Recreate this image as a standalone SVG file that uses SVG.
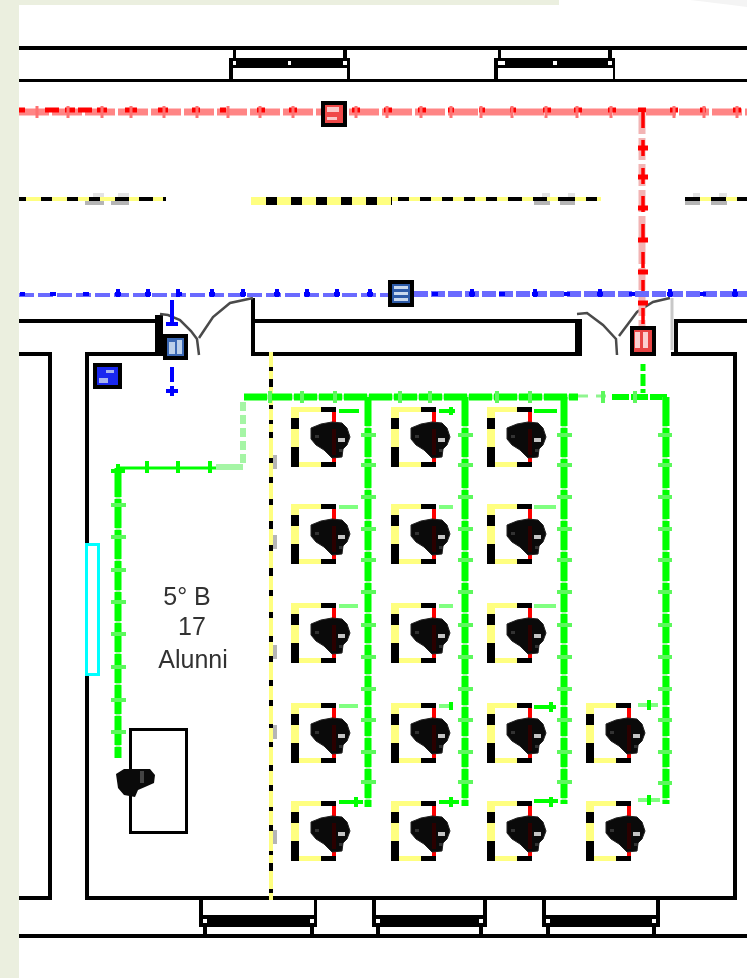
<svg xmlns="http://www.w3.org/2000/svg" width="747" height="978" viewBox="0 0 747 978">
<style>
.k{fill:#000}
.wh{fill:#fff}
.dr{fill:none;stroke:#4a4a4a;stroke-width:2.5}
.rp{fill:none;stroke:#ff8585;stroke-width:7;stroke-dasharray:30 3}
.rr{fill:none;stroke:#f00;stroke-width:5}
.rt{fill:none;stroke:#ff7070;stroke-width:3}
.bb{fill:none;stroke:#00f;stroke-width:4}
.g{fill:none;stroke:#0f0;stroke-width:7;stroke-dasharray:29 2}
.pale{fill:none;stroke:#a8f8a8;stroke-width:5}
.gt{fill:none;stroke:#0f0;stroke-width:4}
.gs{fill:none;stroke:#80ff80;stroke-width:4}
.gtk{fill:none;stroke:#5cf85c;stroke-width:4}
.gl{fill:none;stroke:#a5f5a5;stroke-width:6}
.smudge{fill:#b5b5b5}
.lbl{font-family:"Liberation Sans",Arial,sans-serif;font-size:25px;fill:#333;text-anchor:middle}
</style>
<defs>
<filter id="soft" x="-10%" y="-10%" width="120%" height="120%"><feGaussianBlur stdDeviation="0.6"/></filter>
<g id="desk">
<rect x="0" y="0" width="8" height="60" fill="#000"/>
<rect x="0" y="0" width="8" height="11" fill="#ffff80"/>
<rect x="0" y="22" width="8" height="18" fill="#ffff80"/>
<rect x="8" y="0" width="22" height="5" fill="#ffff80"/>
<rect x="30" y="0" width="15" height="5" fill="#000"/>
<rect x="8" y="55" width="22" height="5" fill="#ffff80"/>
<rect x="30" y="55" width="15" height="5" fill="#000"/>
<rect x="41" y="5" width="4" height="50" fill="#f00"/>
<path d="M20 21L30 17L41 15L51 16L56 21L59 30L56 38L52 42L51 50L41 51L33 43L25 38L20 32Z" fill="#0a0a0a" stroke="#222" stroke-width="1" stroke-linejoin="round"/>
<rect x="41" y="22" width="4" height="26" fill="#2a0000"/>
<rect x="47" y="31" width="7" height="4" fill="#c4c4c4"/>
<path d="M48 42h3v3h-3zM24 28h4v3h-4z" fill="#333"/>
</g>
</defs>
<rect width="747" height="978" fill="#fff"/>
<rect width="19" height="978" fill="#ebefdf"/>
<rect width="559" height="5" fill="#ebefdf"/>
<path d="M690 0H747V7Q715 3 690 0Z" fill="#f4f4f4"/>

<g id="walls">
<rect class="k" x="19" y="46" width="728" height="4"/>
<rect class="k" x="19" y="79" width="728" height="3"/>
<rect class="k" x="19" y="319" width="141" height="4"/>
<rect class="k" x="155" y="315" width="8" height="41"/>
<rect class="k" x="85" y="352" width="78" height="4"/>
<rect class="k" x="251" y="298" width="4" height="58"/>
<rect class="k" x="251" y="319" width="327" height="4"/>
<rect class="k" x="251" y="352" width="331" height="4"/>
<rect class="k" x="575" y="319" width="7" height="37"/>
<rect class="k" x="674" y="319" width="73" height="4"/>
<rect class="k" x="674" y="319" width="4" height="37"/>
<rect class="k" x="671" y="352" width="66" height="4"/>
<rect class="k" x="733" y="352" width="4" height="548"/>
<rect class="k" x="85" y="352" width="4" height="548"/>
<rect class="k" x="85" y="896" width="652" height="4"/>
<rect class="k" x="19" y="352" width="33" height="4"/>
<rect class="k" x="48" y="352" width="4" height="548"/>
<rect class="k" x="19" y="896" width="33" height="4"/>
<rect class="k" x="19" y="934" width="728" height="4"/>
</g>

<g id="windows">
<g id="window-top-1"><rect class="k" x="229" y="58" width="121" height="10"/><rect class="k" x="229" y="68" width="4" height="12"/><rect class="k" x="347" y="68" width="3" height="12"/><rect class="k" x="233" y="50" width="3" height="8"/><rect class="k" x="343" y="50" width="4" height="8"/><rect class="wh" x="233" y="61" width="3" height="4"/><rect class="wh" x="288" y="61" width="3" height="4"/><rect class="wh" x="343" y="61" width="4" height="4"/></g>
<g id="window-top-2"><rect class="k" x="494" y="58" width="121" height="10"/><rect class="k" x="494" y="68" width="4" height="12"/><rect class="k" x="613" y="68" width="2" height="12"/><rect class="k" x="498" y="50" width="3" height="8"/><rect class="k" x="608" y="50" width="4" height="8"/><rect class="wh" x="498" y="61" width="7" height="4"/><rect class="wh" x="553" y="61" width="4" height="4"/><rect class="wh" x="608" y="61" width="4" height="4"/></g>
<g id="window-bottom-1"><rect class="k" x="199" y="900" width="4" height="27"/><rect class="k" x="314" y="900" width="3" height="27"/><rect class="k" x="199" y="915" width="118" height="12"/><rect class="k" x="203" y="927" width="4" height="7"/><rect class="k" x="310" y="927" width="4" height="7"/><rect class="wh" x="203" y="919" width="4" height="4"/><rect class="wh" x="310" y="919" width="4" height="4"/></g>
<g id="window-bottom-2"><rect class="k" x="372" y="900" width="4" height="27"/><rect class="k" x="483" y="900" width="4" height="27"/><rect class="k" x="372" y="915" width="115" height="12"/><rect class="k" x="376" y="927" width="4" height="7"/><rect class="k" x="479" y="927" width="4" height="7"/><rect class="wh" x="376" y="919" width="4" height="4"/><rect class="wh" x="479" y="919" width="4" height="4"/></g>
<g id="window-bottom-3"><rect class="k" x="542" y="900" width="4" height="27"/><rect class="k" x="656" y="900" width="4" height="27"/><rect class="k" x="542" y="915" width="118" height="12"/><rect class="k" x="546" y="927" width="4" height="7"/><rect class="k" x="652" y="927" width="4" height="7"/><rect class="wh" x="546" y="919" width="4" height="4"/><rect class="wh" x="652" y="919" width="4" height="4"/></g>
</g>

<g id="doors">
<path class="dr" d="M160 314L168 315L180 320L191 331L197 339L199 355"/>
<path class="dr" d="M199 338L205 329L213 317L230 303L253 298"/>
<path class="dr" d="M577 314L587 313L603 325L616 339L617 355"/>
<path class="dr" d="M619 336L637 312L653 302L670 298"/>
<path d="M672 298V350" fill="none" stroke="#c8c8c8" stroke-width="3"/>
</g>

<g id="connectors">
<path class="rp" d="M19 112H747"/>
<path class="rr" d="M19 110h6M45 110h14M65 110h10M78 110h14M97 110h10M125 110h12M158 110h10M192 110h8M220 110h6M257 110h8M289 110h8M352 110h8M384 110h8M418 110h8M448 110h6M479 110h6M510 110h6M543 110h8M574 110h8M608 110h8M638 110h8M670 110h8M700 110h6M733 110h8"/>
<path class="rt" d="M37 106v12M68 106v12M102 106v12M131 106v12M164 106v12M197 106v12M228 106v12M260 106v12M293 106v12M356 106v12M387 106v12M421 106v12M451 106v12M481 106v12M512 106v12M546 106v12M577 106v12M611 106v12M674 106v12M704 106v12M737 106v12"/>
<path d="M642 112V330" fill="none" stroke="#f2b4b4" stroke-width="7" stroke-dasharray="22 4"/>
<path d="M643 112V330" fill="none" stroke="#f00" stroke-width="3.500" stroke-dasharray="16 12"/>
<path class="rr" stroke-width="4" d="M638 148h10M638 177h10M638 208h10M638 240h10M638 272h10M638 303h10"/>

<path d="M19 295H388" fill="none" stroke="#6a6aff" stroke-width="4" stroke-dasharray="15 4"/>
<path d="M414 294H747" fill="none" stroke="#6a6aff" stroke-width="6" stroke-dasharray="14 3"/>
<path class="bb" d="M20 294h5M50 294h6M83 294h6M115 294h6M145 294h6M176 294h6M209 294h6M240 294h6M274 294h6M304 294h6M334 294h6M367 294h6M432 294h6M469 294h6M499 294h6M532 294h6M564 294h6M597 294h6M629 294h6M667 294h6M700 294h6M732 294h6"/>
<path class="bb" stroke-width="3" d="M118 289v8M148 289v8M178 289v8M212 289v8M243 289v8M277 289v8M307 289v8M337 289v8M370 289v8M472 289v8M535 289v8M600 289v8M670 289v8M735 289v8"/>
<path class="bb" d="M172 300V326M172 367V382M172 386V396"/>
<path d="M166 324h12M166 391h12" fill="none" stroke="#00f" stroke-width="4"/>

<g id="yellow-lines">
<path d="M19 199H166" fill="none" stroke="#ffff80" stroke-width="4"/>
<path d="M19 199H166" fill="none" stroke="#000" stroke-width="4" stroke-dasharray="7 15 11 15 11 11 11 15 14 10 14 10 11 14"/>
<path d="M251 201H392" fill="none" stroke="#ffff80" stroke-width="8"/>
<path d="M266 201H392" fill="none" stroke="#000" stroke-width="8" stroke-dasharray="11 14"/>
<path d="M392 199H601" fill="none" stroke="#ffff80" stroke-width="4"/>
<path d="M392 199H601" fill="none" stroke="#000" stroke-width="4" stroke-dasharray="0 6 11 11 11 11 11 11 11 11 11 11 14 11 14 11 11"/>
<path d="M685 199H747" fill="none" stroke="#ffff80" stroke-width="4"/>
<path d="M685 199H747" fill="none" stroke="#000" stroke-width="4" stroke-dasharray="15 11 15 11"/>
<path class="smudge" d="M85 201h19v4h-19zM111 201h18v4h-18zM534 201h16v4h-16zM560 201h15v4h-15zM685 201h15v4h-15zM711 201h16v4h-16z"/>
<path fill="#e3e3e3" d="M93 193h11v4h-11zM118 193h11v4h-11zM542 193h8v4h-8zM568 193h7v4h-7zM693 193h7v4h-7zM719 193h8v4h-8z"/>
<path d="M271 352V900" fill="none" stroke="#ffff80" stroke-width="4"/>
<path d="M271 367V900" fill="none" stroke="#000" stroke-width="4" stroke-dasharray="4 8 8 18 4 11 4 8 6 20 5 14 6 16 6 16 8 16 6 17 8 14 6 16 6 18 6 14 6 18 6 14 6 18 4 14 5 18 6 14 6 16 4 14 6 20"/>
<path class="smudge" d="M273 455h4v14h-4zM273 535h4v14h-4zM273 645h4v14h-4zM273 725h4v14h-4zM273 830h4v14h-4z"/>
</g>

<g id="green-lines">
<path class="pale" d="M118 468V758M368 397V807M465 397V806M564 397V804M244 397H578"/>
<path d="M244 397H578" fill="none" stroke="#0f0" stroke-width="7" stroke-dasharray="23 2"/>
<path d="M578 396H612" fill="none" stroke="#8ff58f" stroke-width="3" stroke-dasharray="10 8"/>
<path d="M612 397H667" fill="none" stroke="#0f0" stroke-width="6" stroke-dasharray="17 2"/>
<path d="M643 364V393" fill="none" stroke="#0f0" stroke-width="5" stroke-dasharray="7 3 12 3"/>
<path class="gl" stroke-dasharray="9 4" d="M243 402V466"/>
<path d="M118 468H216" fill="none" stroke="#0f0" stroke-width="3"/>
<path class="gl" stroke-width="5" d="M216 467H243"/>
<path class="g" d="M118 468V758"/>
<path class="g" d="M368 397V807"/>
<path class="g" d="M465 397V806"/>
<path class="g" d="M564 397V804"/>
<path class="pale" stroke-width="6" d="M665 397V804"/>
<path class="g" d="M666 397V804" stroke-width="4"/>
<path class="gt" d="M147 461v12M178 461v12M210 461v12M118 464v10M111 471h14"/>
<path class="gtk" d="M270 391v12M302 391v12M335 391v12M400 391v12M430 391v12M497 391v12M530 391v12M603 391v12M635 391v12"/>
<path class="gtk" d="M111 505h15M111 537h15M111 570h15M111 602h15M111 634h15M111 667h15M111 700h15M111 732h15"/>
<path class="gtk" d="M361 435h15M361 465h15M361 497h15M361 529h15M361 560h15M361 592h15M361 625h15M361 657h15M361 689h15M361 720h15M361 752h15M361 782h15"/>
<path class="gtk" d="M458 435h15M458 465h15M458 497h15M458 529h15M458 560h15M458 592h15M458 625h15M458 657h15M458 689h15M458 720h15M458 752h15M458 782h15"/>
<path class="gtk" d="M557 435h15M557 465h15M557 497h15M557 529h15M557 560h15M557 592h15M557 625h15M557 657h15M557 689h15M557 720h15M557 752h15M557 782h15"/>
<path class="gtk" d="M658 435h14M658 465h14M658 497h14M658 529h14M658 560h14M658 592h14M658 625h14M658 657h14M658 689h14M658 720h14M658 752h14M658 783h14"/>
<path class="gs" d="M339 507h19M339 606h19M339 706h19M439 507h14M439 606h14M439 706h14M534 507h22M534 606h22M638 705h20M638 800h22"/>
<path class="gt" d="M339 411h20M339 802h24M439 411h16M439 802h20M534 411h23M534 707h22M534 801h24"/>
<path class="gt" d="M356 797v10M451 797v10M451 702v8M451 407v8M551 797v10M551 702v10M649 700v10M649 795v10"/>
</g>
</g>

<g id="teacher-desk"><rect x="130.500" y="729.500" width="56" height="103" fill="none" stroke="#000" stroke-width="3"/></g>
<g id="teacher"><path d="M116 774L124 769L150 769L155 775L154 783L145 787L138 790L135 797L124 795L118 788Z" fill="#0a0a0a"/><rect x="140" y="771" width="4" height="12" fill="#444"/></g>
<g id="board"><rect x="86.500" y="544.500" width="12" height="130" fill="#fff" stroke="#0ff" stroke-width="3"/></g>

<g id="desks">
<use id="desk-1-1" href="#desk" x="291" y="407"/><use id="desk-1-2" href="#desk" x="391" y="407"/><use id="desk-1-3" href="#desk" x="487" y="407"/>
<use id="desk-2-1" href="#desk" x="291" y="504"/><use id="desk-2-2" href="#desk" x="391" y="504"/><use id="desk-2-3" href="#desk" x="487" y="504"/>
<use id="desk-3-1" href="#desk" x="291" y="603"/><use id="desk-3-2" href="#desk" x="391" y="603"/><use id="desk-3-3" href="#desk" x="487" y="603"/>
<use id="desk-4-1" href="#desk" x="291" y="703"/><use id="desk-4-2" href="#desk" x="391" y="703"/><use id="desk-4-3" href="#desk" x="487" y="703"/><use id="desk-4-4" href="#desk" x="586" y="703"/>
<use id="desk-5-1" href="#desk" x="291" y="801"/><use id="desk-5-2" href="#desk" x="391" y="801"/><use id="desk-5-3" href="#desk" x="487" y="801"/><use id="desk-5-4" href="#desk" x="586" y="801"/>
</g>

<g id="node-red-top"><rect x="323" y="103" width="22" height="22" fill="#f04848" stroke="#000" stroke-width="4"/><path d="M327 107h12v5h-12zM327 117h10v3h-10z" fill="#fbc8c8"/></g>
<g id="node-blue-corridor"><rect x="390" y="282" width="22" height="23" fill="#2c5aa8" stroke="#000" stroke-width="4"/><path d="M394 286h14v3h-14zM394 292h14v3h-14zM394 298h14v3h-14z" fill="#c8d8ee"/></g>
<g id="node-red-door"><rect x="632" y="328" width="22" height="26" fill="#e84444" stroke="#000" stroke-width="4"/><path d="M635 332h5v16h-5zM643 332h5v16h-5z" fill="#fbd0d0"/></g>
<g id="node-blue-door"><rect x="165" y="336" width="21" height="22" fill="#3b68b4" stroke="#000" stroke-width="4"/><path d="M169 342h6v12h-6zM177 340h5v14h-5z" fill="#bcd0ea"/></g>
<g id="node-blue-room"><rect x="95" y="365" width="25" height="22" fill="#1a28f0" stroke="#000" stroke-width="4"/><path d="M99 378h9v5h-9zM106 370h8v3h-8z" fill="#a8b4f0"/></g>

<g id="room-label" filter="url(#soft)">
<text class="lbl" x="187" y="605">5° B</text>
<text class="lbl" x="192" y="635">17</text>
<text class="lbl" x="193" y="668">Alunni</text>
</g>
</svg>
